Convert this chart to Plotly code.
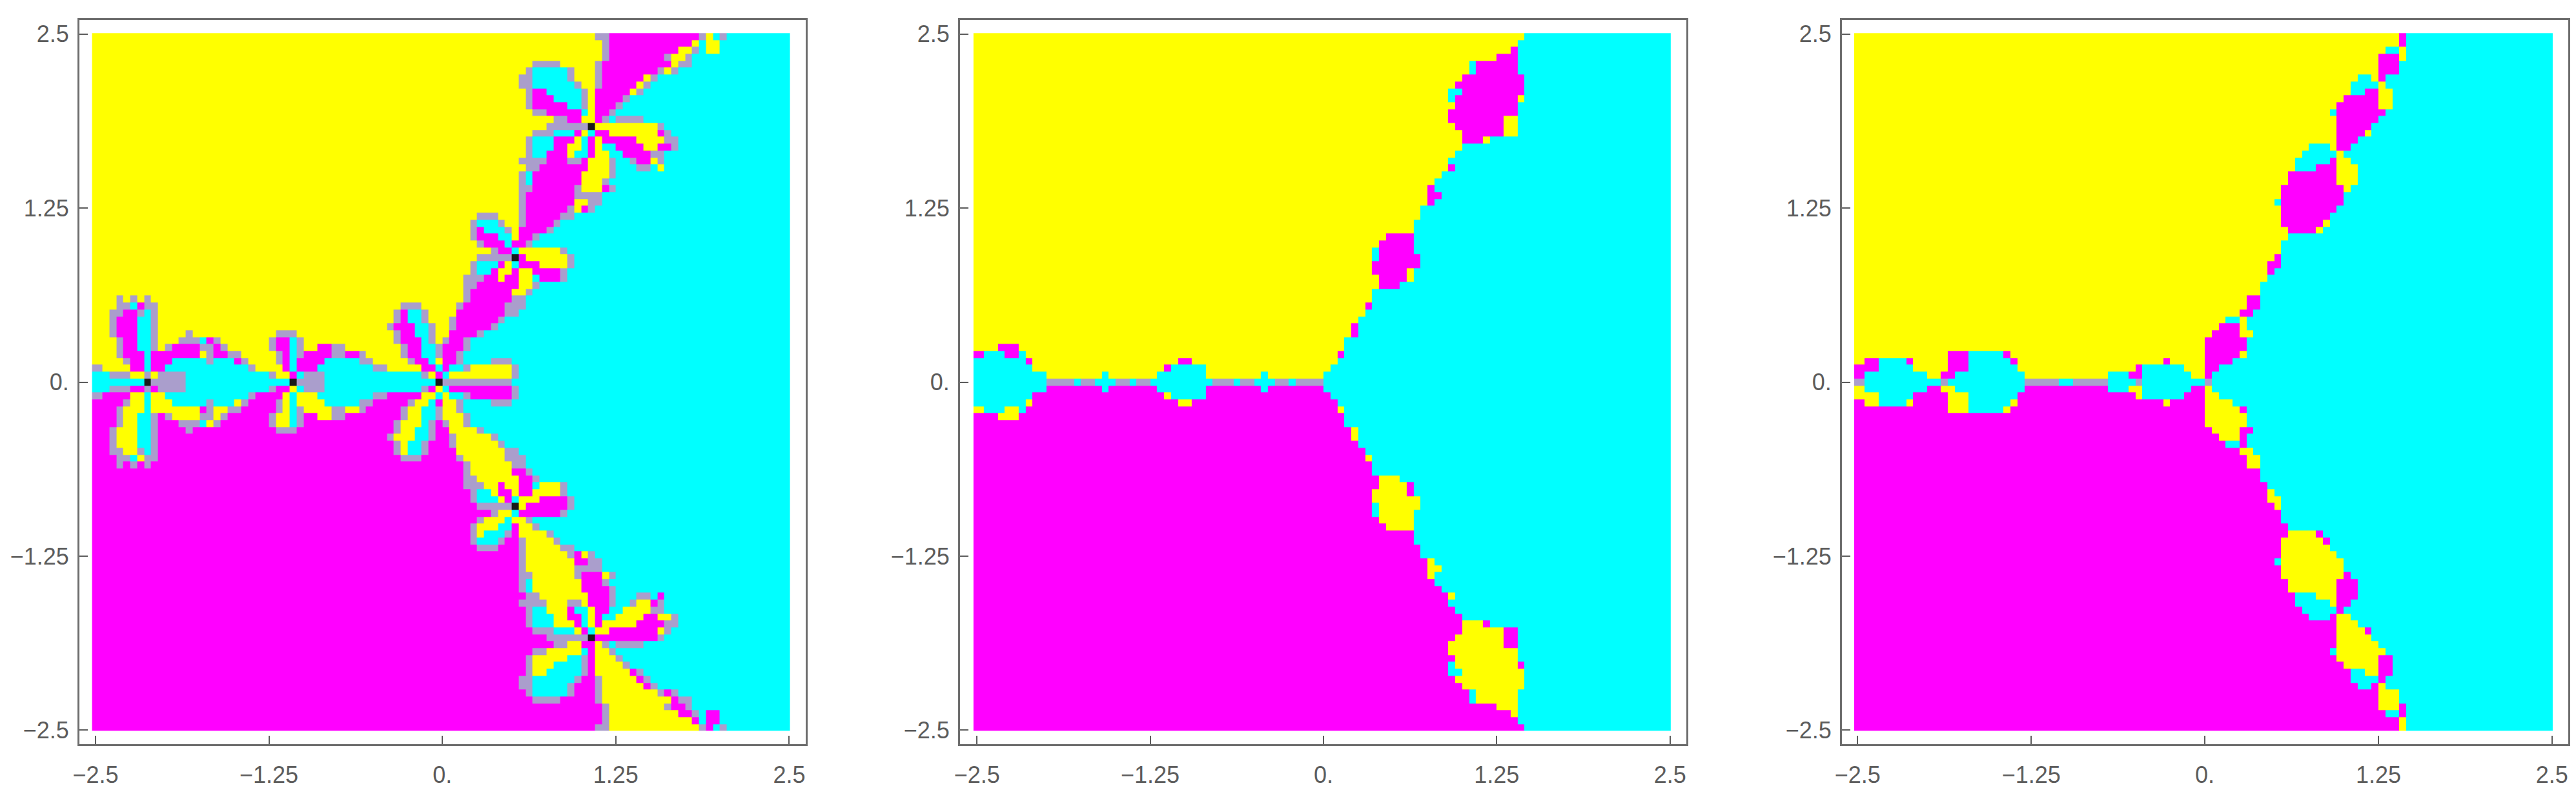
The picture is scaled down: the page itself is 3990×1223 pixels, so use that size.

import plotly.graph_objects as go

# Each row is one line of cells, top to bottom: letter + column where that colour ends.
# Y yellow, C cyan, M magenta, G grey fringe, K black centre
PANEL_1_ROWS = [
    "Y72 G74 M87 G88 Y89 C90 G91 C",
    "Y73 G74 M86 Y87 C88 Y90 C",
    "Y73 G74 M84 Y86 G87 C88 Y90 C",
    "Y73 G74 M82 G83 Y85 G86 C",
    "Y63 G67 Y72 G73 M83 Y84 G86 C",
    "Y62 G63 C68 G69 Y72 G73 M81 G82 Y83 G84 C",
    "Y61 G63 C68 G69 Y72 G73 M79 Y80 G81 C",
    "Y61 G63 C69 G70 Y72 G73 M78 Y79 G80 C",
    "Y62 G63 M65 C70 G71 Y72 M77 Y78 G79 C",
    "Y62 G63 M66 C70 G71 Y72 M76 G77 C",
    "Y62 G63 M68 C70 G71 Y72 M75 G76 C",
    "Y63 G65 M70 C71 Y72 M74 G75 C",
    "Y66 G68 M70 Y72 M73 G74 C75 G79 C",
    "Y65 G71 K72 Y81 G82 C",
    "Y63 G66 C69 M70 Y71 C72 M74 Y81 M82 G83 C",
    "Y62 G63 C66 M69 Y70 C71 M72 Y73 M78 Y82 G84 C",
    "Y62 G63 C66 M68 Y70 C71 M72 Y73 C75 M79 Y81 M83 G84 C",
    "Y62 G63 C65 M68 Y69 C71 M72 Y74 C76 M80 G82 C",
    "Y61 G65 M68 G70 M71 Y74 G75 C77 G78 M80 Y81 G82 C",
    "Y62 G64 M71 Y74 G75 C78 G80 C81 Y82 C",
    "Y61 G62 C63 M70 Y74 G75 C",
    "Y61 G62 C63 M70 Y73 G74 C",
    "Y61 G63 M69 G70 Y73 M74 G75 C",
    "Y61 G62 M69 G73 C",
    "Y61 G62 M69 Y71 G73 C",
    "Y61 G62 M68 G69 Y70 M71 G72 C",
    "Y55 G58 Y61 G62 M67 G69 C",
    "Y54 G55 C58 G59 Y61 G62 M66 G67 C",
    "Y54 G55 M56 C59 G60 Y61 M65 G66 C",
    "Y54 G55 M58 C60 Y61 M63 G64 C",
    "Y55 G56 M59 C60 M62 G63 C",
    "Y57 G58 M60 C61 Y67 G68 C",
    "Y55 G60 K61 M62 Y68 G69 C",
    "Y54 G55 C58 M59 Y60 C61 M64 Y68 G69 C",
    "Y54 G55 C57 M58 Y60 M61 Y63 M67 G68 C",
    "Y53 G56 M58 Y59 M61 Y63 C64 M67 G68 C",
    "Y53 G55 M61 Y63 G64 C",
    "Y53 G54 M60 Y62 G63 C",
    "Y3 G4 Y5 G6 Y7 G8 Y53 G54 M60 G62 C",
    "Y3 G5 C6 M7 G9 Y44 G47 Y52 G53 M59 G62 C",
    "Y2 G4 M6 G7 C8 G9 Y43 G44 M45 C47 G48 Y52 M59 G61 C",
    "Y2 G3 M6 C8 G9 Y43 G44 M45 C47 G48 Y51 G52 M58 G59 C",
    "Y2 G3 M6 C8 G9 Y42 G43 M46 C48 G49 Y51 G52 M57 G58 C",
    "Y2 G3 M6 C8 G9 Y13 G14 Y26 G29 Y43 G44 M46 C48 G49 Y51 M55 G56 C",
    "Y3 G4 M6 C8 G9 Y12 G15 C16 M17 G18 Y25 G26 M28 C29 G30 Y43 G44 M47 C48 G49 Y50 G51 M53 G54 C",
    "Y3 G4 M6 C8 G9 Y10 G11 M15 G17 M18 G19 Y25 G26 M28 C29 G30 Y32 M34 G36 Y44 G45 M47 C49 G50 M53 G54 C",
    "Y3 G4 M7 C8 M15 Y16 G17 M19 G21 Y26 G27 M28 C29 G30 M34 G36 M38 G39 Y44 G45 M47 C49 G50 M52 G53 C",
    "Y4 G5 M7 C8 M11 C16 G17 C20 M21 G22 Y26 G27 M28 C29 M33 C38 G40 Y45 G46 M48 C49 Y50 M52 G53 C57 G60 C",
    "G1 Y5 M7 C8 M10 C22 G23 Y27 M28 C29 M32 C40 G42 Y47 M49 C50 M51 C53 G54 Y60 G61 C",
    "C2 G5 Y7 G8 Y9 G13 C25 G26 Y28 M29 C30 G33 C47 G48 Y49 M50 C51 Y60 G61 C",
    "C7 K8 G13 C28 K29 G33 C49 K50 G60 C",
    "C2 G5 M7 G8 M9 G13 C25 G26 M28 Y29 C30 G33 C47 G48 M49 Y50 C51 M60 G61 C",
    "G1 M5 Y7 C8 Y10 C22 G23 M27 Y28 C29 Y32 C40 G42 M47 Y49 C50 Y51 C53 G54 M60 G61 C",
    "M4 G5 Y7 C8 Y11 C16 G17 C20 Y21 G22 M26 G27 Y28 C29 Y33 C38 G40 M45 G46 Y48 C49 M50 Y52 G53 C57 G60 C",
    "M3 G4 Y7 C8 Y15 M16 G17 Y19 G21 M26 G27 Y28 C29 G30 Y34 G36 Y38 G39 M44 G45 Y47 C49 G50 Y52 G53 C",
    "M3 G4 Y6 C8 G9 M10 G11 Y15 G17 Y18 G19 M25 G26 Y28 C29 G30 M32 Y34 G36 M44 G45 Y47 C49 G50 Y53 G54 C",
    "M3 G4 Y6 C8 G9 M12 G15 C16 Y17 G18 M25 G26 Y28 C29 G30 M43 G44 Y47 C48 G49 M50 G51 Y53 G54 C",
    "M2 G3 Y6 C8 G9 M13 G14 M26 G29 M43 G44 Y46 C48 G49 M51 Y55 G56 C",
    "M2 G3 Y6 C8 G9 M42 G43 Y46 C48 G49 M51 G52 Y57 G58 C",
    "M2 G3 Y6 C8 G9 M43 G44 Y45 C47 G48 M51 G52 Y58 G59 C",
    "M2 G4 Y6 G7 C8 G9 M43 G44 Y45 C47 G48 M52 Y59 G61 C",
    "M3 G5 C6 Y7 G9 M44 G47 M52 G53 Y59 G62 C",
    "M3 G4 M5 G6 M7 G8 M53 G54 Y60 G62 C",
    "M53 G54 Y60 M62 G63 C",
    "M53 G55 Y61 M63 G64 C",
    "M53 G56 Y58 M59 Y61 M63 C64 Y67 G68 C",
    "M54 G55 C57 Y58 M60 Y61 M63 Y67 G68 C",
    "M54 G55 C58 Y59 M60 C61 Y64 M68 G69 C",
    "M55 G60 K61 Y62 M68 G69 C",
    "M57 G58 Y60 C61 M67 G68 C",
    "M55 G56 Y59 C60 Y62 G63 C",
    "M54 G55 Y58 C60 M61 Y63 G64 C",
    "M54 G55 Y56 C59 G60 M61 Y65 G66 C",
    "M54 G55 C58 G59 M61 G62 Y66 G67 C",
    "M55 G58 M61 G62 Y67 G69 C",
    "M61 G62 Y68 G69 M70 Y71 G72 C",
    "M61 G62 Y69 M71 G73 C",
    "M61 G62 Y69 G73 C",
    "M61 G63 Y69 G70 M73 Y74 G75 C",
    "M61 G62 C63 Y70 M73 G74 C",
    "M61 G62 C63 Y70 M74 G75 C",
    "M62 G64 Y71 M74 G75 C78 G80 C81 M82 C",
    "M61 G65 Y68 G70 Y71 M74 G75 C77 G78 Y80 M81 G82 C",
    "M62 G63 C65 Y68 M69 C71 Y72 M74 C76 Y80 G82 C",
    "M62 G63 C66 Y68 M70 C71 Y72 M73 C75 Y79 M81 Y83 G84 C",
    "M62 G63 C66 Y69 M70 C71 Y72 M73 Y78 M82 G84 C",
    "M63 G66 C69 Y70 M71 C72 Y74 M81 Y82 G83 C",
    "M65 G71 K72 M81 G82 C",
    "M66 G68 Y70 M72 Y73 G74 C75 G79 C",
    "M63 G65 Y70 C71 M72 Y74 G75 C",
    "M62 G63 Y68 C70 G71 M72 Y75 G76 C",
    "M62 G63 Y66 C70 G71 M72 Y76 G77 C",
    "M62 G63 Y65 C70 G71 M72 Y77 M78 G79 C",
    "M61 G63 C69 G70 M72 G73 Y78 M79 G80 C",
    "M61 G63 C68 G69 M72 G73 Y79 M80 G81 C",
    "M62 G63 C68 G69 M72 G73 Y81 G82 M83 G84 C",
    "M63 G67 M72 G73 Y83 M84 G86 C",
    "M73 G74 Y82 G83 M85 G86 C",
    "M73 G74 Y84 M86 G87 C88 M90 C",
    "M73 G74 Y86 M87 C88 M90 C",
    "M72 G74 Y87 G88 M89 C90 G91 C",
]

PANEL_2_ROWS = [
    "Y79 C",
    "Y78 C",
    "Y77 M78 C",
    "Y75 M78 C",
    "Y71 C72 M78 C",
    "Y71 C72 M78 C",
    "Y70 M79 C",
    "Y69 M79 C",
    "Y68 C70 M79 C",
    "Y68 C69 M78 Y79 C",
    "Y69 M78 C",
    "Y68 M78 C",
    "Y68 M76 Y78 C",
    "Y69 M76 Y78 C",
    "Y70 M76 Y78 C",
    "Y70 M73 Y74 C",
    "Y70 C",
    "Y69 C",
    "Y68 C",
    "Y68 M69 C",
    "Y67 C",
    "Y66 C",
    "Y65 M66 C",
    "Y65 M67 C",
    "Y65 M66 C",
    "Y64 C",
    "Y64 C",
    "Y63 C",
    "Y63 C",
    "Y59 M63 C",
    "Y58 M63 C",
    "Y57 C58 M63 C",
    "Y57 C58 M64 C",
    "Y57 M64 C",
    "Y57 M62 Y63 C",
    "Y58 M62 Y63 C",
    "Y58 M61 C",
    "Y57 C",
    "Y57 C",
    "Y56 M57 C",
    "Y56 C",
    "Y55 C",
    "Y54 M55 C",
    "Y54 M55 C",
    "Y53 C",
    "Y3 M6 Y53 C",
    "M1 C4 M6 C7 Y52 M53 C",
    "C7 M8 Y29 M31 Y52 C",
    "C8 Y27 M28 C33 Y51 C",
    "C10 Y18 C19 Y26 C33 Y41 C42 Y50 C",
    "C10 G14 C15 G17 C20 G22 C23 G25 C34 G37 C38 G40 C43 G45 C46 G50 C",
    "C10 M18 C19 M26 C33 M41 C42 M50 C",
    "C8 M27 Y28 C33 M51 C",
    "C7 Y8 M29 Y31 M52 C",
    "Y1 C4 Y6 C7 M52 Y53 C",
    "M3 Y6 M53 C",
    "M53 C",
    "M54 Y55 C",
    "M54 Y55 C",
    "M55 C",
    "M56 C",
    "M56 Y57 C",
    "M57 C",
    "M57 C",
    "M58 Y61 C",
    "M58 Y62 M63 C",
    "M57 Y62 M63 C",
    "M57 Y64 C",
    "M57 C58 Y64 C",
    "M57 C58 Y63 C",
    "M58 Y63 C",
    "M59 Y63 C",
    "M63 C",
    "M63 C",
    "M64 C",
    "M64 C",
    "M65 Y66 C",
    "M65 Y67 C",
    "M65 Y66 C",
    "M66 C",
    "M67 C",
    "M68 Y69 C",
    "M68 C",
    "M69 C",
    "M70 C",
    "M70 Y73 M74 C",
    "M70 Y76 M78 C",
    "M69 Y76 M78 C",
    "M68 Y76 M78 C",
    "M68 Y78 C",
    "M69 Y78 C",
    "M68 C69 Y78 M79 C",
    "M68 C70 Y79 C",
    "M69 Y79 C",
    "M70 Y79 C",
    "M71 C72 Y78 C",
    "M71 C72 Y78 C",
    "M75 Y78 C",
    "M77 Y78 C",
    "M78 C",
    "M79 C",
]

PANEL_3_ROWS = [
    "Y78 M79 C",
    "Y78 M79 C",
    "Y76 C78 Y79 C",
    "Y75 M78 Y79 C",
    "Y75 M78 C",
    "Y75 M78 C",
    "Y72 C74 Y75 M76 C",
    "Y71 C75 Y76 C",
    "Y71 C73 M75 Y77 C",
    "Y70 M75 Y77 C",
    "Y69 M75 Y77 C",
    "Y68 C69 M76 C",
    "Y69 M75 C",
    "Y69 M74 C",
    "Y69 M73 Y74 C",
    "Y69 M72 C",
    "Y65 C68 Y69 M71 C",
    "Y64 C69 Y70 C",
    "Y63 C68 M69 Y71 C",
    "Y63 C66 M69 Y72 C",
    "Y62 M69 Y72 C",
    "Y62 M69 Y72 C",
    "Y61 M70 Y71 C",
    "Y61 M70 C",
    "Y60 C61 M70 C",
    "Y61 M69 C",
    "Y61 M68 C",
    "Y61 M67 Y68 C",
    "Y62 M66 Y67 C",
    "Y62 C",
    "Y61 C",
    "Y61 C",
    "Y60 M61 C",
    "Y59 M61 C",
    "Y59 M60 C",
    "Y59 C",
    "Y58 C",
    "Y58 C",
    "Y56 M58 C",
    "Y56 M58 C",
    "Y55 M57 C",
    "Y53 C55 Y56 C",
    "Y52 M55 Y56 C",
    "Y51 M55 Y57 C",
    "Y50 M56 C",
    "Y50 M56 C",
    "Y13 M16 C21 M22 Y50 M55 Y56 C",
    "Y1 M3 C7 M8 Y13 M16 C22 M23 Y44 M45 Y50 M54 C",
    "M3 C8 Y13 M16 C23 Y40 M41 C47 Y50 M52 C",
    "M1 C10 Y12 M14 C24 Y36 C39 M41 C48 Y50 M51 C",
    "G1 C12 G13 C24 G29 C31 G36 C40 G41 C50 G51 C",
    "Y1 C10 M12 Y14 C24 M36 C39 Y41 C48 M50 Y51 C",
    "Y3 C8 M13 Y16 C23 M40 Y41 C47 M50 Y52 C",
    "M1 Y3 C7 Y8 M13 Y16 C22 Y23 M44 Y45 M50 Y54 C",
    "M13 Y16 C21 Y22 M50 Y55 M56 C",
    "M50 Y56 C",
    "M50 Y56 C",
    "M51 Y55 M57 C",
    "M52 Y55 M56 C",
    "M53 C55 M56 C",
    "M55 Y57 C",
    "M56 Y58 C",
    "M56 Y58 C",
    "M58 C",
    "M58 C",
    "M59 C",
    "M59 Y60 C",
    "M59 Y61 C",
    "M60 Y61 C",
    "M61 C",
    "M61 C",
    "M62 C",
    "M62 Y66 M67 C",
    "M61 Y67 M68 C",
    "M61 Y68 C",
    "M61 Y69 C",
    "M60 C61 Y70 C",
    "M61 Y70 C",
    "M61 Y70 M71 C",
    "M62 Y69 M72 C",
    "M62 Y69 M72 C",
    "M63 C66 Y69 M72 C",
    "M63 C68 Y69 M71 C",
    "M64 C69 M70 C",
    "M65 C68 M69 Y71 C",
    "M69 Y72 C",
    "M69 Y73 M74 C",
    "M69 Y74 C",
    "M69 Y75 C",
    "M68 C69 Y76 C",
    "M69 Y75 M77 C",
    "M70 Y75 M77 C",
    "M71 C73 Y75 M77 C",
    "M71 C75 M76 C",
    "M72 C74 M75 Y76 C",
    "M75 Y78 C",
    "M75 Y78 C",
    "M75 Y78 M79 C",
    "M76 C78 M79 C",
    "M78 Y79 C",
    "M78 Y79 C",
]

TICK_VALUES = [-2.5, -1.25, 0, 1.25, 2.5]
TICK_LABELS = ["\u22122.5", "\u22121.25", "0.", "1.25", "2.5"]

LETTER_CODES = {"Y": 0, "C": 1, "M": 2, "G": 3, "K": 4}
CELL_COLORS = ["#ffff00", "#00ffff", "#ff00ff", "#aa9ecc", "#1a1a1a"]
N_COLS = 101

WIDTH = 3990
HEIGHT = 1223
FRAME_COLOR = "#6e6e6e"
TICK_COLOR = "#5c5c5c"
FONT = "Liberation Sans, Arial, sans-serif"

# frame edges in pixels and x range of each panel
PANELS = [
    (PANEL_1_ROWS, 123, 1248, [-2.616, 2.619]),
    (PANEL_2_ROWS, 1487, 2612, [-2.622, 2.618]),
    (PANEL_3_ROWS, 2853, 3978, [-2.613, 2.617]),
]
FRAME_TOP = 31
FRAME_BOTTOM = 1152
Y_RANGE = [-2.6, 2.6]

# cell i runs from column i to column i+1; the outer cells stop at the image edge
X_EDGES = [-2.525] + [-2.5 + 0.05 * i for i in range(1, N_COLS)] + [2.507]


def expand_row(row):
    """Turn 'Y72 G74 C' into a full list of colour codes."""
    cells = []
    for token in row.split():
        end = int(token[1:]) if len(token) > 1 else N_COLS
        cells += [LETTER_CODES[token[0]]] * (end - len(cells))
    return cells


def colorscale():
    n = len(CELL_COLORS)
    scale = []
    for i, color in enumerate(CELL_COLORS):
        scale += [[i / n, color], [(i + 1) / n, color]]
    return scale


fig = go.Figure()

for i, (rows, left, right, x_range) in enumerate(PANELS, start=1):
    fig.add_trace(
        go.Heatmap(
            z=[expand_row(r) for r in rows],
            x=X_EDGES,
            y0=2.481,
            dy=-0.04962,
            zmin=0,
            zmax=len(CELL_COLORS),
            colorscale=colorscale(),
            showscale=False,
            zsmooth=False,
            xaxis=f"x{i}",
            yaxis=f"y{i}",
            hoverinfo="skip",
        )
    )
    axis_style = dict(
        tickmode="array",
        tickvals=TICK_VALUES,
        ticktext=TICK_LABELS,
        ticks="inside",
        ticklen=13,
        tickwidth=2,
        tickcolor=TICK_COLOR,
        tickfont=dict(family=FONT, size=36, color=TICK_COLOR),
        showgrid=False,
        zeroline=False,
        showline=True,
        mirror=True,
        linecolor=FRAME_COLOR,
        linewidth=3,
        automargin=False,
    )
    fig.update_layout(
        {
            f"xaxis{i}": dict(
                domain=[left / WIDTH, right / WIDTH],
                range=x_range,
                anchor=f"y{i}",
                ticklabelstandoff=14,
                **axis_style,
            ),
            f"yaxis{i}": dict(
                domain=[1 - FRAME_BOTTOM / HEIGHT, 1 - FRAME_TOP / HEIGHT],
                range=Y_RANGE,
                anchor=f"x{i}",
                ticklabelstandoff=6,
                **axis_style,
            ),
        }
    )

fig.update_layout(
    width=WIDTH,
    height=HEIGHT,
    margin=dict(l=0, r=0, t=0, b=0, pad=0),
    paper_bgcolor="white",
    plot_bgcolor="white",
    showlegend=False,
)

fig.write_html(
    "out.html",
    config={"displayModeBar": False},
    post_script="document.body.style.margin = '0';",
)
